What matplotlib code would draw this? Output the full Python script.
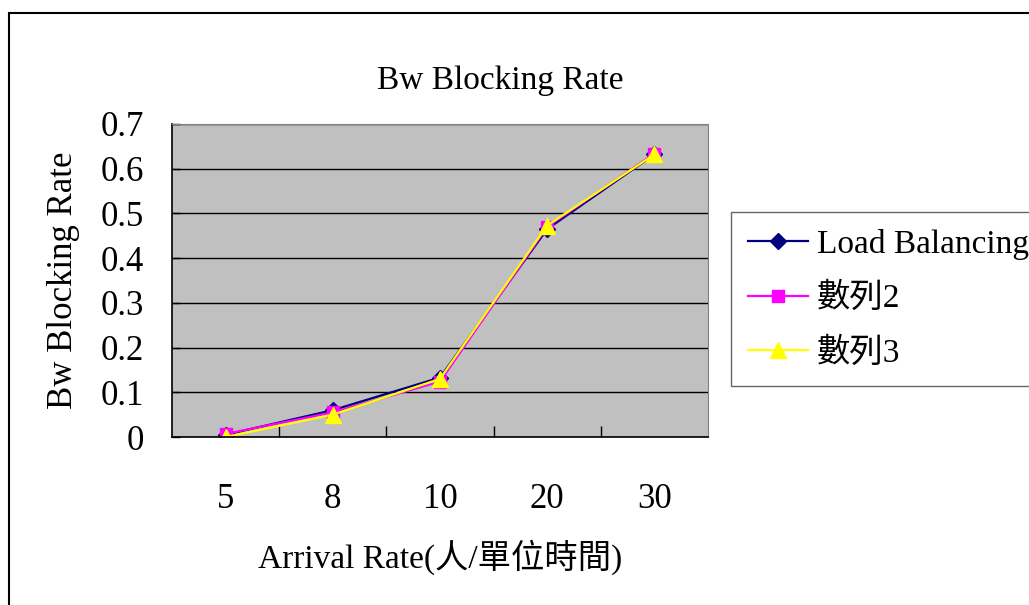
import matplotlib.pyplot as plt
from matplotlib.patches import Rectangle

plt.rcParams['font.family'] = ['Liberation Serif', 'Noto Sans CJK TC']

# arrival rates and blocking rate of each method
rates = ['5', '8', '10', '20', '30']
load_bal = [0.005, 0.060, 0.133, 0.465, 0.632]
series2 = [0.007, 0.055, 0.124, 0.470, 0.634]
series3 = [0.000, 0.050, 0.130, 0.473, 0.632]
names = ['Load Balancing', '數列2', '數列3']

fig = plt.figure(figsize=(10.29, 6.05), dpi=100)
ax = fig.add_axes([172/1029, 1-437/605, 536/1029, 313/605])
ax.set_facecolor('#c0c0c0')

x = range(len(rates))
ax.plot(x, load_bal, color='#000080', lw=1.6, marker='D', ms=8, label=names[0])
ax.plot(x, series2, color='#ff00ff', lw=1.6, marker='s', ms=9, label=names[1])
ax.plot(x, series3, color='#ffff00', lw=1.6, marker='^', ms=11, label=names[2])

ax.set_xlim(-0.5, 4.5)
ax.set_ylim(0, 0.7)
ax.set_yticks([0, 0.1, 0.2, 0.3, 0.4, 0.5, 0.6, 0.7])
ax.set_yticklabels(['0', '0.1', '0.2', '0.3', '0.4', '0.5', '0.6', '0.7'])
ax.yaxis.grid(True, color='black', lw=1)
ax.set_axisbelow(True)

ax.set_xticks(list(x))
ax.set_xticklabels(rates)
ax.set_xticks([0.5, 1.5, 2.5, 3.5], minor=True)
ax.tick_params(axis='x', which='major', length=0, pad=33, labelsize=25)
ax.tick_params(axis='x', which='minor', direction='in', length=8, width=1)
ax.tick_params(axis='y', direction='in', length=6, width=1, labelsize=25, pad=20)

for s in ['right', 'top']:
    ax.spines[s].set_color('#808080')
for s in ['left', 'bottom']:
    ax.spines[s].set_color('black')
    ax.spines[s].set_linewidth(1.2)

ax.set_xlabel('Arrival Rate(人/單位時間)', fontsize=24, labelpad=17)
ax.set_ylabel('Bw Blocking Rate', fontsize=25, labelpad=15)
fig.text(500/1029, 1-81/605, 'Bw Blocking Rate', fontsize=24, ha='center', va='center')

leg = ax.legend(loc='upper left', bbox_to_anchor=(731/1029, 1-212/605),
                bbox_transform=fig.transFigure, borderaxespad=0, fontsize=24,
                frameon=True, fancybox=False, edgecolor='#404040',
                handlelength=1.8, handletextpad=0.27, labelspacing=0.7,
                borderpad=0.5)
leg.get_frame().set_linewidth(1)

# outer chart border
fig.patches.append(Rectangle((8.5/1029, -0.1), 1.2, 1-13/605+0.1,
                             transform=fig.transFigure, fill=False,
                             edgecolor='black', lw=1.5))

fig.savefig('out.png', dpi=100)
